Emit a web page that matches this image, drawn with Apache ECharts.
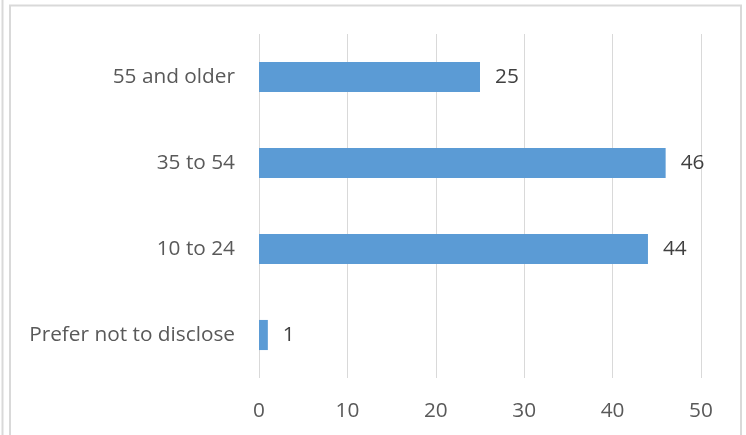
<!DOCTYPE html>
<html><head><meta charset="utf-8">
<script src="https://cdn.jsdelivr.net/npm/echarts@6/dist/echarts.min.js"></script>
<style>html,body{margin:0;padding:0;background:#fff}#c{width:746px;height:435px}</style>
</head><body><div id="c"></div>
<script>
const categories = ["Prefer not to disclose", "10 to 24", "35 to 54", "55 and older"];
const values = [1, 44, 46, 25];
const xTicks = [0, 10, 20, 30, 40, 50];

const FONT = '"Open Sans", "Noto Sans", sans-serif';
const FS = 20.8;
const chart = echarts.init(document.getElementById('c'), null, {renderer: 'canvas'});
chart.setOption({
  animation: false,
  backgroundColor: '#ffffff',
  grid: {left: 259, right: 45, top: 34, bottom: 57, containLabel: false},
  xAxis: {
    type: 'value', min: xTicks[0], max: xTicks[xTicks.length - 1], interval: 10,
    axisLine: {show: false}, axisTick: {show: false},
    splitLine: {show: true, lineStyle: {color: '#D9D9D9', width: 1}},
    axisLabel: {color: '#595959', fontFamily: FONT, fontSize: FS, margin: 23}
  },
  yAxis: {
    type: 'category', data: categories,
    axisLine: {show: false}, axisTick: {show: false},
    axisLabel: {color: '#595959', fontFamily: FONT, fontSize: FS, margin: 24, padding: [3, 0, 0, 0]}
  },
  series: [{
    type: 'bar', data: values, barWidth: '35%',
    itemStyle: {color: '#5B9BD5'},
    label: {show: true, position: 'right', distance: 15, color: '#404040', fontFamily: FONT, fontSize: FS, padding: [3, 0, 0, 0]}
  }],
  graphic: [
    {type: 'rect', shape: {x: 10, y: 5.5, width: 731, height: 500}, style: {fill: 'none', stroke: '#D9D9D9', lineWidth: 2}, silent: true},
    {type: 'line', shape: {x1: 2.5, y1: 0, x2: 2.5, y2: 435}, style: {stroke: '#D9D9D9', lineWidth: 2}, silent: true}
  ]
});
</script></body></html>
